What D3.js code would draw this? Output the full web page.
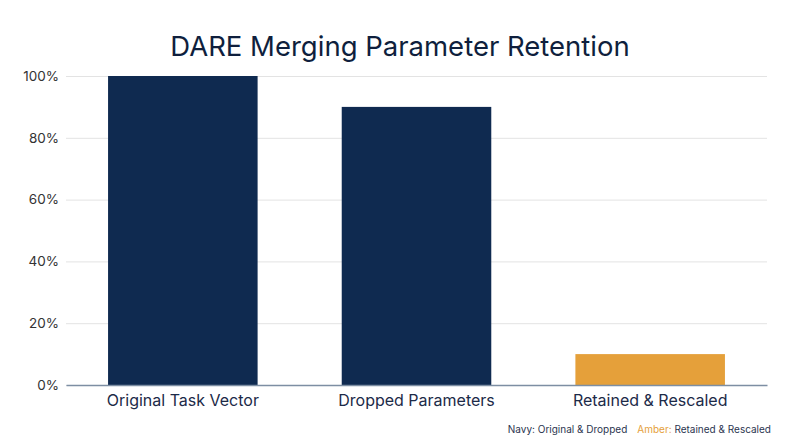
<!DOCTYPE html>
<html><head><meta charset="utf-8">
<script src="https://cdn.jsdelivr.net/npm/d3@7"></script>
<style>body{margin:0;background:#fff;font-family:Inter,sans-serif}</style>
</head><body>
<svg id="c" width="800" height="447"></svg>
<script>
const categories = ["Original Task Vector", "Dropped Parameters", "Retained & Rescaled"];
const values = [100, 90, 10];
const barColors = ["#0f2a50", "#0f2a50", "#e5a03a"];
const yTicks = [0, 20, 40, 60, 80, 100];
const title = "DARE Merging Parameter Retention";

const svg = d3.select("#c");
const m = {l: 66, r: 767, t: 76, b: 385};
const x = d3.scaleBand().domain(categories).range([m.l, m.r]).paddingInner(0.36).paddingOuter(0.18);
const y = d3.scaleLinear().domain([0, 100]).range([m.b, m.t]);

svg.append("text").attr("x", 400).attr("y", 56).attr("text-anchor", "middle")
  .attr("font-size", 27.5).attr("fill", "#0f1f3d").text(title);

const yAxis = svg.append("g").attr("transform", `translate(${m.l},0)`)
  .call(d3.axisLeft(y).tickValues(yTicks).tickFormat(d => d + "%").tickSize(-(m.r - m.l)).tickPadding(7));
yAxis.select(".domain").remove();
yAxis.selectAll(".tick line").attr("stroke", "#e3e3e3");
yAxis.selectAll(".tick text").attr("font-size", 13.5).attr("fill", "#333").attr("font-family", "Inter");

svg.selectAll("rect.bar").data(values).enter().append("rect").attr("class", "bar")
  .attr("x", (d, i) => x(categories[i])).attr("width", x.bandwidth())
  .attr("y", d => y(d)).attr("height", d => y(0) - y(d))
  .attr("fill", (d, i) => barColors[i]);

const xAxis = svg.append("g").attr("transform", `translate(0,${m.b})`)
  .call(d3.axisBottom(x).tickSize(0).tickPadding(10));
xAxis.select(".domain").attr("stroke", "#7d8ea3").attr("stroke-width", 1.5);
xAxis.selectAll(".tick text").attr("font-size", 16).attr("fill", "#1c2a48").attr("font-family", "Inter");

const leg = svg.append("text").attr("x", 771).attr("y", 433).attr("text-anchor", "end")
  .attr("font-size", 10).attr("fill", "#2b3550");
leg.append("tspan").text("Navy: Original & Dropped");
leg.append("tspan").attr("dx", 10).attr("fill", "#e5a03a").text("Amber:");
leg.append("tspan").text(" Retained & Rescaled");
</script>
</body></html>
